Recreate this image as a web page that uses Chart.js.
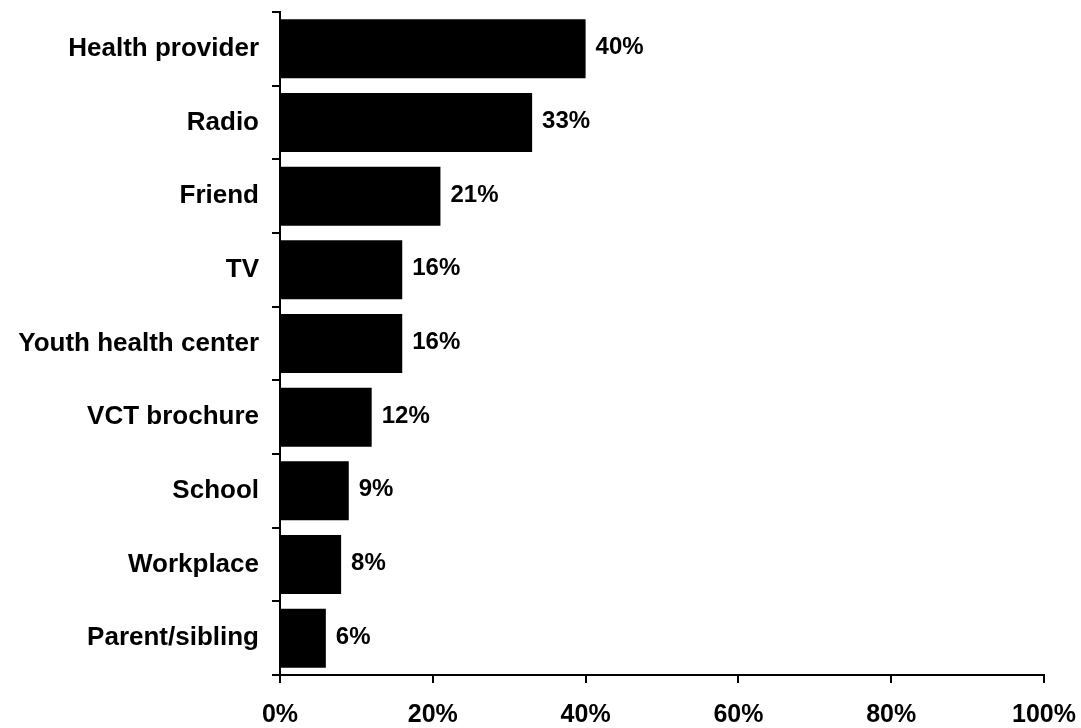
<!DOCTYPE html>
<html>
<head>
<meta charset="utf-8">
<script src="https://cdn.jsdelivr.net/npm/chart.js@4/dist/chart.umd.min.js"></script>
<style>
  html, body { margin: 0; padding: 0; background: #ffffff; }
  #wrap { width: 1081px; height: 728px; }
</style>
</head>
<body>
<div id="wrap"><canvas id="c" width="1081" height="728"></canvas></div>
<script>
const categories = ["Health provider", "Radio", "Friend", "TV", "Youth health center", "VCT brochure", "School", "Workplace", "Parent/sibling"];
const values = [40, 33, 21, 16, 16, 12, 9, 8, 6];
const xTicks = [0, 20, 40, 60, 80, 100];

const valueLabels = {
  id: 'valueLabels',
  afterDatasetsDraw(chart) {
    const ctx = chart.ctx;
    const meta = chart.getDatasetMeta(0);
    ctx.save();
    ctx.font = 'bold 24px "Liberation Sans", Arial, sans-serif';
    ctx.fillStyle = '#000';
    ctx.textAlign = 'left';
    ctx.textBaseline = 'middle';
    meta.data.forEach((bar, i) => {
      ctx.fillText(values[i] + '%', bar.x + 10, bar.y - 1);
    });
    ctx.restore();
  }
};

new Chart(document.getElementById('c'), {
  type: 'bar',
  data: {
    labels: categories,
    datasets: [{
      data: values,
      backgroundColor: '#000000',
      borderWidth: 0,
      barPercentage: 0.8,
      categoryPercentage: 1.0
    }]
  },
  options: {
    indexAxis: 'y',
    responsive: false,
    animation: false,
    layout: { padding: { top: 12, right: 37, left: 0, bottom: 0 } },
    plugins: { legend: { display: false }, tooltip: { enabled: false } },
    scales: {
      x: {
        type: 'linear',
        min: 0, max: 100,
        afterBuildTicks(scale) { scale.ticks = xTicks.map(v => ({ value: v })); },
        afterFit(scale) { scale.height = 53; scale.paddingLeft = 0; scale.paddingRight = 0; },
        grid: { drawOnChartArea: false, drawTicks: true, tickLength: 8, color: '#000', lineWidth: 2 },
        border: { display: true, color: '#000', width: 2 },
        ticks: {
          color: '#000',
          padding: 17,
          maxRotation: 0,
          font: { family: '"Liberation Sans", Arial, sans-serif', size: 25, weight: 'bold' },
          callback: (v) => v + '%'
        }
      },
      y: {
        type: 'category',
        afterFit(scale) { scale.width = 280; scale.paddingTop = 0; scale.paddingBottom = 0; },
        grid: { offset: true, drawOnChartArea: false, drawTicks: true, tickLength: 8, color: '#000', lineWidth: 2 },
        border: { display: true, color: '#000', width: 2 },
        ticks: {
          color: '#000',
          padding: 13,
          font: { family: '"Liberation Sans", Arial, sans-serif', size: 26, weight: 'bold' }
        }
      }
    }
  },
  plugins: [valueLabels]
});
</script>
</body>
</html>
